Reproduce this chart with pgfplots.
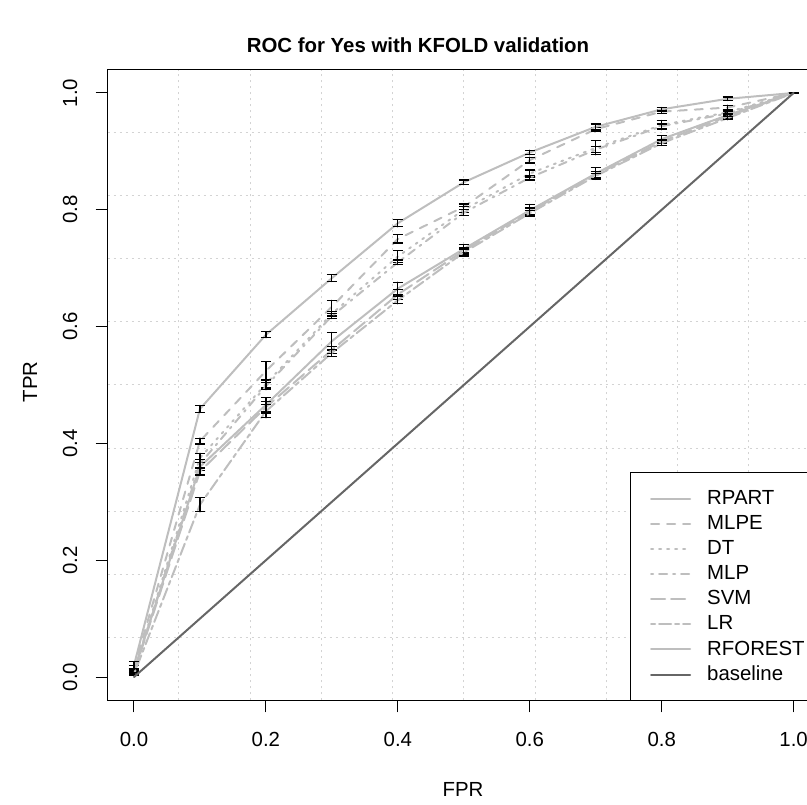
\documentclass[border=0pt]{standalone}
\usepackage{fontspec}
\setmainfont{Liberation Sans}
\usepackage{pgfplots}
\usepackage{pgfplotstable}
\pgfplotsset{compat=1.18}

\definecolor{curve}{HTML}{BEBEBE}
\definecolor{basec}{HTML}{666666}
\definecolor{gridc}{HTML}{D3D3D3}

\pgfplotstableread{
x y e
0.0 0.010 0.004
0.1 0.360 0.007
0.2 0.466 0.012
0.3 0.575 0.015
0.4 0.665 0.011
0.5 0.733 0.007
0.6 0.799 0.010
0.7 0.862 0.010
0.8 0.921 0.006
0.9 0.962 0.004
1.0 1.000 0.000
}\rpart
\pgfplotstableread{
x y e
0.0 0.015 0.005
0.1 0.404 0.005
0.2 0.524 0.016
0.3 0.634 0.011
0.4 0.750 0.007
0.5 0.805 0.005
0.6 0.885 0.005
0.7 0.938 0.003
0.8 0.968 0.003
0.9 0.975 0.004
1.0 1.000 0.000
}\mlpe
\pgfplotstableread{
x y e
0.0 0.010 0.004
0.1 0.375 0.008
0.2 0.502 0.007
0.3 0.622 0.004
0.4 0.720 0.010
0.5 0.800 0.005
0.6 0.862 0.006
0.7 0.906 0.012
0.8 0.945 0.008
0.9 0.967 0.005
1.0 1.000 0.000
}\dt
\pgfplotstableread{
x y e
0.0 0.010 0.004
0.1 0.365 0.007
0.2 0.498 0.006
0.3 0.618 0.004
0.4 0.710 0.004
0.5 0.795 0.005
0.6 0.855 0.004
0.7 0.903 0.005
0.8 0.943 0.004
0.9 0.965 0.004
1.0 1.000 0.000
}\mlp
\pgfplotstableread{
x y e
0.0 0.008 0.004
0.1 0.352 0.006
0.2 0.462 0.010
0.3 0.560 0.006
0.4 0.655 0.008
0.5 0.730 0.006
0.6 0.797 0.006
0.7 0.860 0.005
0.8 0.917 0.004
0.9 0.960 0.004
1.0 1.000 0.000
}\svm
\pgfplotstableread{
x y e
0.0 0.005 0.003
0.1 0.295 0.012
0.2 0.455 0.011
0.3 0.555 0.006
0.4 0.645 0.006
0.5 0.727 0.006
0.6 0.794 0.005
0.7 0.858 0.004
0.8 0.914 0.004
0.9 0.957 0.003
1.0 1.000 0.000
}\lr
\pgfplotstableread{
x y e
0.0 0.020 0.006
0.1 0.459 0.006
0.2 0.586 0.005
0.3 0.683 0.006
0.4 0.777 0.006
0.5 0.847 0.004
0.6 0.898 0.004
0.7 0.942 0.005
0.8 0.972 0.003
0.9 0.990 0.003
1.0 1.000 0.000
}\rforest

\pgfplotsset{
  roc/.style={curve, line width=1.5pt, line cap=round, no markers},
  eb/.style={error bars/.cd, y dir=both, y explicit,
    error bar style={black, solid, line width=0.9pt},
    error mark options={black, solid, rotate=90, mark size=3.75pt, line width=0.9pt}},
}
\newcommand{\fs}{\fontsize{15.3pt}{18pt}\selectfont}

\begin{document}
\begin{tikzpicture}
\begin{axis}[
  at={(80.7pt,77.7pt)}, anchor=south west,
  scale only axis, width=534.3pt, height=473.1pt,
  xmin=-0.04, xmax=1.04, ymin=-0.04, ymax=1.04,
  xtick={0,0.2,0.4,0.6,0.8,1}, xticklabels={0.0,0.2,0.4,0.6,0.8,1.0},
  ytick={0,0.2,0.4,0.6,0.8,1}, yticklabels={0.0,0.2,0.4,0.6,0.8,1.0},
  minor xtick={0.068,0.176,0.284,0.392,0.5,0.608,0.716,0.824,0.932},
  minor ytick={0.068,0.176,0.284,0.392,0.5,0.608,0.716,0.824,0.932},
  xminorgrids=true, yminorgrids=true,
  minor grid style={gridc, line width=0.75pt, dash pattern=on 1.5pt off 3pt},
  minor tick length=0pt,
  tick align=outside, major tick length=9pt,
  xtick pos=lower, ytick pos=left,
  axis line style={black, line width=0.75pt},
  every tick/.style={black, line width=0.75pt},
  tick label style={font=\fs},
  xticklabel style={anchor=center, yshift=-19.95pt},
  yticklabel style={rotate=90, anchor=center, yshift=19.2pt},
  title={ROC for Yes with KFOLD validation},
  every axis title shift=0pt,
  title style={at={(rel axis cs:0.4357,1.039)}, anchor=center, yshift=0pt, font=\bfseries\fs, inner sep=0pt},
  xlabel={FPR},
  xlabel style={at={(rel axis cs:0.4989,-0.142)}, anchor=center, font=\fs, inner sep=0pt},
  ylabel={TPR},
  ylabel style={at={(rel axis cs:-0.1089,0.505)}, anchor=center, font=\fs, inner sep=0pt},
  legend cell align=left,
  legend image code/.code={\draw[#1] (0pt,0pt) -- (29.25pt,0pt);},
  legend style={at={(axis cs:0.7515,0.351)}, anchor=north west, fill=white,
    draw=black, line width=0.75pt, inner xsep=15pt, inner ysep=13.5pt,
    font=\fs, row sep=6.75pt, nodes={inner sep=0pt},
    /tikz/every odd column/.append style={column sep=12pt}},
]
\addplot[roc, eb] table[x=x,y=y,y error=e]{\rpart};
\addlegendentry{RPART}
\addplot[roc, dash pattern=on 6pt off 6pt, eb] table[x=x,y=y,y error=e]{\mlpe};
\addlegendentry{MLPE}
\addplot[roc, dash pattern=on 1.5pt off 4.5pt, eb] table[x=x,y=y,y error=e]{\dt};
\addlegendentry{DT}
\addplot[roc, dash pattern=on 1.5pt off 4.5pt on 6pt off 4.5pt, eb] table[x=x,y=y,y error=e]{\mlp};
\addlegendentry{MLP}
\addplot[roc, dash pattern=on 10.5pt off 4.5pt, eb] table[x=x,y=y,y error=e]{\svm};
\addlegendentry{SVM}
\addplot[roc, dash pattern=on 3pt off 3pt on 9pt off 3pt, eb] table[x=x,y=y,y error=e]{\lr};
\addlegendentry{LR}
\addplot[roc, eb] table[x=x,y=y,y error=e]{\rforest};
\addlegendentry{RFOREST}
\addplot[basec, line width=1.5pt, line cap=round, no markers] coordinates {(0,0) (1,1)};
\addlegendentry{baseline}
\end{axis}
\pgfresetboundingbox
\path[use as bounding box] (0,0) rectangle (605.25pt,603pt);
\end{tikzpicture}
\end{document}
